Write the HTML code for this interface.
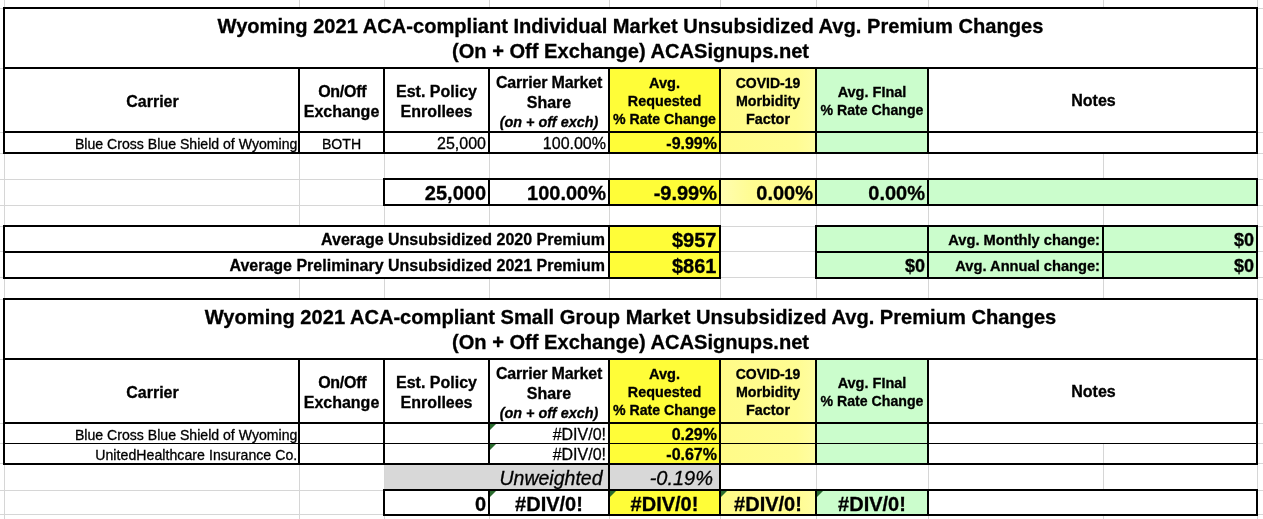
<!DOCTYPE html>
<html><head><meta charset="utf-8"><title>Wyoming 2021 ACA Premium Changes</title>
<style>
html,body{margin:0;padding:0;background:#fff;}
body{width:1263px;height:519px;position:relative;overflow:hidden;font-family:"Liberation Sans",Arial,sans-serif;color:#000;}
#s div{position:absolute;box-sizing:border-box;}
#s .t{white-space:nowrap;overflow:visible;-webkit-text-stroke:0.3px #000;}
</style></head><body><div id="s">
<div style="left:4px;top:0px;width:1px;height:519px;background:#d6d6d6;"></div>
<div style="left:299px;top:0px;width:1px;height:519px;background:#d6d6d6;"></div>
<div style="left:384px;top:0px;width:1px;height:519px;background:#d6d6d6;"></div>
<div style="left:489px;top:0px;width:1px;height:519px;background:#d6d6d6;"></div>
<div style="left:609px;top:0px;width:1px;height:519px;background:#d6d6d6;"></div>
<div style="left:720px;top:0px;width:1px;height:519px;background:#d6d6d6;"></div>
<div style="left:816px;top:0px;width:1px;height:519px;background:#d6d6d6;"></div>
<div style="left:928px;top:0px;width:1px;height:519px;background:#d6d6d6;"></div>
<div style="left:1103px;top:0px;width:1px;height:519px;background:#d6d6d6;"></div>
<div style="left:1257px;top:0px;width:1px;height:519px;background:#d6d6d6;"></div>
<div style="left:0px;top:8px;width:1263px;height:1px;background:#d6d6d6;"></div>
<div style="left:0px;top:68px;width:1263px;height:1px;background:#d6d6d6;"></div>
<div style="left:0px;top:132px;width:1263px;height:1px;background:#d6d6d6;"></div>
<div style="left:0px;top:153px;width:1263px;height:1px;background:#d6d6d6;"></div>
<div style="left:0px;top:179px;width:1263px;height:1px;background:#d6d6d6;"></div>
<div style="left:0px;top:205px;width:1263px;height:1px;background:#d6d6d6;"></div>
<div style="left:0px;top:226px;width:1263px;height:1px;background:#d6d6d6;"></div>
<div style="left:0px;top:251px;width:1263px;height:1px;background:#d6d6d6;"></div>
<div style="left:0px;top:277px;width:1263px;height:1px;background:#d6d6d6;"></div>
<div style="left:0px;top:299px;width:1263px;height:1px;background:#d6d6d6;"></div>
<div style="left:0px;top:359px;width:1263px;height:1px;background:#d6d6d6;"></div>
<div style="left:0px;top:423px;width:1263px;height:1px;background:#d6d6d6;"></div>
<div style="left:0px;top:443px;width:1263px;height:1px;background:#d6d6d6;"></div>
<div style="left:0px;top:463px;width:1263px;height:1px;background:#d6d6d6;"></div>
<div style="left:0px;top:490px;width:1263px;height:1px;background:#d6d6d6;"></div>
<div style="left:0px;top:514px;width:1263px;height:1px;background:#d6d6d6;"></div>
<div style="left:5px;top:9px;width:1251px;height:58px;background:#fff;"></div>
<div style="left:929px;top:133px;width:327px;height:19px;background:#fff;"></div>
<div style="left:5px;top:227px;width:603px;height:24px;background:#fff;"></div>
<div style="left:5px;top:253px;width:603px;height:24px;background:#fff;"></div>
<div style="left:5px;top:300px;width:1251px;height:58px;background:#fff;"></div>
<div style="left:929px;top:69px;width:327px;height:62px;background:#fff;"></div>
<div style="left:929px;top:360px;width:327px;height:62px;background:#fff;"></div>
<div style="left:929px;top:424px;width:327px;height:19px;background:#fff;"></div>
<div style="left:929px;top:491px;width:327px;height:23px;background:#fff;"></div>
<div style="left:610px;top:69px;width:109px;height:83px;background:#fffd38;"></div>
<div style="left:721px;top:69px;width:94px;height:83px;background:linear-gradient(90deg,#fffb88,#fffc92 80%,#fffda2);"></div>
<div style="left:817px;top:69px;width:109.60000000000002px;height:83px;background:#cbfdcc;"></div>
<div style="left:610px;top:180px;width:109px;height:24px;background:#fffd38;"></div>
<div style="left:721px;top:180px;width:94px;height:24px;background:linear-gradient(90deg,#fffdb0,#fffc90 35%,#fffc8c);"></div>
<div style="left:817px;top:180px;width:439px;height:24px;background:#cbfdcc;"></div>
<div style="left:610px;top:227px;width:109px;height:50px;background:#fffd38;"></div>
<div style="left:817px;top:227px;width:439px;height:50px;background:#cbfdcc;"></div>
<div style="left:610px;top:360px;width:109px;height:103px;background:#fffd38;"></div>
<div style="left:721px;top:360px;width:94px;height:103px;background:linear-gradient(90deg,#fffb88,#fffc92 80%,#fffda2);"></div>
<div style="left:817px;top:360px;width:109.60000000000002px;height:103px;background:#cbfdcc;"></div>
<div style="left:385px;top:465px;width:334px;height:24px;background:#d8d8d8;"></div>
<div style="left:610px;top:491px;width:109px;height:23px;background:#fffd38;"></div>
<div style="left:721px;top:491px;width:94px;height:23px;background:linear-gradient(90deg,#fffb88,#fffc92 80%,#fffda2);"></div>
<div style="left:817px;top:491px;width:109.60000000000002px;height:23px;background:#cbfdcc;"></div>
<div style="left:3px;top:7px;width:1255px;height:2px;background:#000;"></div>
<div style="left:3px;top:67px;width:1255px;height:2px;background:#000;"></div>
<div style="left:3px;top:131px;width:1255px;height:2px;background:#000;"></div>
<div style="left:3px;top:152px;width:1255px;height:2px;background:#000;"></div>
<div style="left:3px;top:7px;width:2px;height:147px;background:#000;"></div>
<div style="left:1256px;top:7px;width:2px;height:147px;background:#000;"></div>
<div style="left:298px;top:67px;width:2px;height:87px;background:#000;"></div>
<div style="left:383px;top:67px;width:2px;height:87px;background:#000;"></div>
<div style="left:488px;top:67px;width:2px;height:87px;background:#000;"></div>
<div style="left:608px;top:67px;width:2px;height:87px;background:#000;"></div>
<div style="left:719px;top:67px;width:2px;height:87px;background:#000;"></div>
<div style="left:815px;top:67px;width:2px;height:87px;background:#000;"></div>
<div style="left:927px;top:67px;width:2px;height:87px;background:#000;"></div>
<div style="left:383px;top:178px;width:875px;height:2px;background:#000;"></div>
<div style="left:383px;top:203.5px;width:875px;height:2.0px;background:#000;"></div>
<div style="left:383px;top:178px;width:2px;height:27.5px;background:#000;"></div>
<div style="left:488px;top:178px;width:2px;height:27.5px;background:#000;"></div>
<div style="left:608px;top:178px;width:2px;height:27.5px;background:#000;"></div>
<div style="left:719px;top:178px;width:2px;height:27.5px;background:#000;"></div>
<div style="left:815px;top:178px;width:2px;height:27.5px;background:#000;"></div>
<div style="left:927px;top:178px;width:2px;height:27.5px;background:#000;"></div>
<div style="left:1256px;top:178px;width:2px;height:27.5px;background:#000;"></div>
<div style="left:3px;top:225px;width:718px;height:2px;background:#000;"></div>
<div style="left:3px;top:250.5px;width:718px;height:2.0px;background:#000;"></div>
<div style="left:3px;top:276.5px;width:718px;height:2.0px;background:#000;"></div>
<div style="left:3px;top:225px;width:2px;height:53.5px;background:#000;"></div>
<div style="left:608px;top:225px;width:2px;height:53.5px;background:#000;"></div>
<div style="left:719px;top:225px;width:2px;height:53.5px;background:#000;"></div>
<div style="left:815px;top:225px;width:443px;height:2px;background:#000;"></div>
<div style="left:815px;top:250.5px;width:443px;height:2.0px;background:#000;"></div>
<div style="left:815px;top:276.5px;width:443px;height:2.0px;background:#000;"></div>
<div style="left:815px;top:225px;width:2px;height:53.5px;background:#000;"></div>
<div style="left:927px;top:225px;width:2px;height:53.5px;background:#000;"></div>
<div style="left:1102px;top:225px;width:2px;height:53.5px;background:#000;"></div>
<div style="left:1256px;top:225px;width:2px;height:53.5px;background:#000;"></div>
<div style="left:3px;top:298px;width:1255px;height:2px;background:#000;"></div>
<div style="left:3px;top:358px;width:1255px;height:2px;background:#000;"></div>
<div style="left:3px;top:422px;width:1255px;height:2px;background:#000;"></div>
<div style="left:3px;top:443px;width:1255px;height:1px;background:#000;"></div>
<div style="left:3px;top:462.5px;width:1255px;height:2.0px;background:#000;"></div>
<div style="left:3px;top:298px;width:2px;height:166.5px;background:#000;"></div>
<div style="left:1256px;top:298px;width:2px;height:166.5px;background:#000;"></div>
<div style="left:298px;top:358px;width:2px;height:106.5px;background:#000;"></div>
<div style="left:383px;top:358px;width:2px;height:106.5px;background:#000;"></div>
<div style="left:488px;top:358px;width:2px;height:106.5px;background:#000;"></div>
<div style="left:608px;top:358px;width:2px;height:106.5px;background:#000;"></div>
<div style="left:719px;top:358px;width:2px;height:106.5px;background:#000;"></div>
<div style="left:815px;top:358px;width:2px;height:106.5px;background:#000;"></div>
<div style="left:927px;top:358px;width:2px;height:106.5px;background:#000;"></div>
<div style="left:608px;top:463px;width:2px;height:28px;background:#000;"></div>
<div style="left:719px;top:463px;width:2px;height:28px;background:#000;"></div>
<div style="left:383px;top:489px;width:875px;height:2px;background:#000;"></div>
<div style="left:383px;top:513.5px;width:875px;height:2.0px;background:#000;"></div>
<div style="left:383px;top:489px;width:2px;height:26.5px;background:#000;"></div>
<div style="left:488px;top:489px;width:2px;height:26.5px;background:#000;"></div>
<div style="left:608px;top:489px;width:2px;height:26.5px;background:#000;"></div>
<div style="left:719px;top:489px;width:2px;height:26.5px;background:#000;"></div>
<div style="left:815px;top:489px;width:2px;height:26.5px;background:#000;"></div>
<div style="left:927px;top:489px;width:2px;height:26.5px;background:#000;"></div>
<div style="left:1256px;top:489px;width:2px;height:26.5px;background:#000;"></div>
<div class="t" style="left:5px;top:9px;width:1251px;height:58px;font-size:20.1px;text-align:center;font-weight:bold;font-style:normal;line-height:25px;padding-top:5px;">Wyoming 2021 ACA-compliant Individual Market Unsubsidized Avg. Premium Changes<br>(On + Off Exchange) ACASignups.net</div>
<div class="t" style="left:5px;top:300px;width:1251px;height:58px;font-size:20.1px;text-align:center;font-weight:bold;font-style:normal;line-height:25px;padding-top:5px;">Wyoming 2021 ACA-compliant Small Group Market Unsubsidized Avg. Premium Changes<br>(On + Off Exchange) ACASignups.net</div>
<div class="t" style="left:6px;top:71px;width:293px;height:62px;font-size:16px;text-align:center;font-weight:bold;font-style:normal;line-height:62px;">Carrier</div>
<div class="t" style="left:300px;top:69px;width:83px;height:62px;font-size:16px;text-align:center;font-weight:bold;font-style:normal;line-height:20px;padding-top:12.5px;"><span style="letter-spacing:-0.27px;margin-left:1.5px">On/Off</span><br>Exchange</div>
<div class="t" style="left:385px;top:69px;width:103px;height:62px;font-size:16px;text-align:center;font-weight:bold;font-style:normal;line-height:20px;padding-top:12.5px;">Est. Policy<br>Enrollees</div>
<div class="t" style="left:490px;top:69px;width:118px;height:62px;font-size:16px;text-align:center;font-weight:bold;font-style:normal;line-height:19.5px;padding-top:4px;"><span style="letter-spacing:-0.17px">Carrier Market</span><br>Share<br><i style="font-size:14.4px">(on + off exch)</i></div>
<div class="t" style="left:610px;top:69px;width:109px;height:62px;font-size:14px;text-align:center;font-weight:bold;font-style:normal;line-height:18px;padding-top:5px;"><span style="font-size:14.6px">Avg.</span><br><span style="font-size:14.35px">Requested</span><br><span style="font-size:14.15px">% Rate Change</span></div>
<div class="t" style="left:721px;top:69px;width:94px;height:62px;font-size:14px;text-align:center;font-weight:bold;font-style:normal;line-height:18px;padding-top:5px;">COVID-19<br><span style="font-size:14.25px">Morbidity</span><br><span style="font-size:14.4px">Factor</span></div>
<div class="t" style="left:817px;top:69px;width:110px;height:62px;font-size:14px;text-align:center;font-weight:bold;font-style:normal;line-height:18px;padding-top:14px;"><span style="font-size:14.5px">Avg. FInal</span><br><span style="font-size:14.15px">% Rate Change</span></div>
<div class="t" style="left:930px;top:70px;width:327px;height:62px;font-size:16px;text-align:center;font-weight:bold;font-style:normal;line-height:62px;">Notes</div>
<div class="t" style="left:6px;top:362px;width:293px;height:62px;font-size:16px;text-align:center;font-weight:bold;font-style:normal;line-height:62px;">Carrier</div>
<div class="t" style="left:300px;top:360px;width:83px;height:62px;font-size:16px;text-align:center;font-weight:bold;font-style:normal;line-height:20px;padding-top:12.5px;"><span style="letter-spacing:-0.27px;margin-left:1.5px">On/Off</span><br>Exchange</div>
<div class="t" style="left:385px;top:360px;width:103px;height:62px;font-size:16px;text-align:center;font-weight:bold;font-style:normal;line-height:20px;padding-top:12.5px;">Est. Policy<br>Enrollees</div>
<div class="t" style="left:490px;top:360px;width:118px;height:62px;font-size:16px;text-align:center;font-weight:bold;font-style:normal;line-height:19.5px;padding-top:4px;"><span style="letter-spacing:-0.17px">Carrier Market</span><br>Share<br><i style="font-size:14.4px">(on + off exch)</i></div>
<div class="t" style="left:610px;top:360px;width:109px;height:62px;font-size:14px;text-align:center;font-weight:bold;font-style:normal;line-height:18px;padding-top:5px;"><span style="font-size:14.6px">Avg.</span><br><span style="font-size:14.35px">Requested</span><br><span style="font-size:14.15px">% Rate Change</span></div>
<div class="t" style="left:721px;top:360px;width:94px;height:62px;font-size:14px;text-align:center;font-weight:bold;font-style:normal;line-height:18px;padding-top:5px;">COVID-19<br><span style="font-size:14.25px">Morbidity</span><br><span style="font-size:14.4px">Factor</span></div>
<div class="t" style="left:817px;top:360px;width:110px;height:62px;font-size:14px;text-align:center;font-weight:bold;font-style:normal;line-height:18px;padding-top:14px;"><span style="font-size:14.5px">Avg. FInal</span><br><span style="font-size:14.15px">% Rate Change</span></div>
<div class="t" style="left:930px;top:361px;width:327px;height:62px;font-size:16px;text-align:center;font-weight:bold;font-style:normal;line-height:62px;">Notes</div>
<div class="t" style="left:5px;top:134px;width:293px;height:19px;font-size:14.1px;text-align:right;font-weight:normal;font-style:normal;line-height:21px;padding-right:0.7px;">Blue Cross Blue Shield of Wyoming</div>
<div class="t" style="left:300px;top:134px;width:83px;height:19px;font-size:14.1px;text-align:center;font-weight:normal;font-style:normal;line-height:21px;">BOTH</div>
<div class="t" style="left:385px;top:133px;width:103px;height:19px;font-size:16px;text-align:right;font-weight:normal;font-style:normal;line-height:21px;padding-right:2px;">25,000</div>
<div class="t" style="left:490px;top:133px;width:118px;height:19px;font-size:16px;text-align:right;font-weight:normal;font-style:normal;line-height:21px;padding-right:2px;">100.00%</div>
<div class="t" style="left:610px;top:133px;width:109px;height:19px;font-size:16px;text-align:right;font-weight:bold;font-style:normal;line-height:21px;padding-right:2px;">-9.99%</div>
<div class="t" style="left:385px;top:180px;width:103px;height:24px;font-size:20px;text-align:right;font-weight:bold;font-style:normal;line-height:27px;padding-right:2px;">25,000</div>
<div class="t" style="left:490px;top:180px;width:118px;height:24px;font-size:20px;text-align:right;font-weight:bold;font-style:normal;line-height:27px;padding-right:2px;">100.00%</div>
<div class="t" style="left:610px;top:180px;width:109px;height:24px;font-size:20px;text-align:right;font-weight:bold;font-style:normal;line-height:27px;padding-right:2px;">-9.99%</div>
<div class="t" style="left:721px;top:180px;width:94px;height:24px;font-size:20px;text-align:right;font-weight:bold;font-style:normal;line-height:27px;padding-right:2px;">0.00%</div>
<div class="t" style="left:817px;top:180px;width:110px;height:24px;font-size:20px;text-align:right;font-weight:bold;font-style:normal;line-height:27px;padding-right:2px;">0.00%</div>
<div class="t" style="left:5px;top:227px;width:603px;height:24px;font-size:16px;text-align:right;font-weight:bold;font-style:normal;line-height:26px;padding-right:3px;">Average Unsubsidized 2020 Premium</div>
<div class="t" style="left:5px;top:253px;width:603px;height:24px;font-size:16px;text-align:right;font-weight:bold;font-style:normal;line-height:26px;padding-right:3px;">Average Preliminary Unsubsidized 2021 Premium</div>
<div class="t" style="left:610px;top:227px;width:109px;height:24px;font-size:20px;text-align:right;font-weight:bold;font-style:normal;line-height:27px;padding-right:2.5px;">$957</div>
<div class="t" style="left:610px;top:253px;width:109px;height:24px;font-size:20px;text-align:right;font-weight:bold;font-style:normal;line-height:27px;padding-right:2.5px;">$861</div>
<div class="t" style="left:817px;top:253px;width:110px;height:24px;font-size:18px;text-align:right;font-weight:bold;font-style:normal;line-height:26px;padding-right:2px;">$0</div>
<div class="t" style="left:929px;top:227px;width:173px;height:24px;font-size:14.67px;text-align:right;font-weight:bold;font-style:normal;line-height:27px;padding-right:2px;">Avg. Monthly change:</div>
<div class="t" style="left:929px;top:253px;width:173px;height:24px;font-size:14.67px;text-align:right;font-weight:bold;font-style:normal;line-height:27px;padding-right:2px;">Avg. Annual change:</div>
<div class="t" style="left:1104px;top:227px;width:152px;height:24px;font-size:18px;text-align:right;font-weight:bold;font-style:normal;line-height:26px;padding-right:2px;">$0</div>
<div class="t" style="left:1104px;top:253px;width:152px;height:24px;font-size:18px;text-align:right;font-weight:bold;font-style:normal;line-height:26px;padding-right:2px;">$0</div>
<div class="t" style="left:5px;top:424px;width:293px;height:19px;font-size:14.1px;text-align:right;font-weight:normal;font-style:normal;line-height:22px;padding-right:0.7px;">Blue Cross Blue Shield of Wyoming</div>
<div class="t" style="left:5px;top:444px;width:293px;height:19px;font-size:14.1px;text-align:right;font-weight:normal;font-style:normal;line-height:22px;padding-right:0.7px;letter-spacing:0.05px;">UnitedHealthcare Insurance Co.</div>
<div class="t" style="left:490px;top:424px;width:118px;height:19px;font-size:16px;text-align:right;font-weight:normal;font-style:normal;line-height:22px;padding-right:2px;">#DIV/0!</div>
<div class="t" style="left:490px;top:444px;width:118px;height:19px;font-size:16px;text-align:right;font-weight:normal;font-style:normal;line-height:22px;padding-right:2px;">#DIV/0!</div>
<div class="t" style="left:610px;top:424px;width:109px;height:19px;font-size:16px;text-align:right;font-weight:bold;font-style:normal;line-height:22px;padding-right:2px;">0.29%</div>
<div class="t" style="left:610px;top:444px;width:109px;height:19px;font-size:16px;text-align:right;font-weight:bold;font-style:normal;line-height:22px;padding-right:2px;">-0.67%</div>
<div class="t" style="left:385px;top:465px;width:223px;height:24px;font-size:19.5px;text-align:right;font-weight:normal;font-style:italic;line-height:27px;padding-right:5.5px;">Unweighted</div>
<div class="t" style="left:610px;top:465px;width:109px;height:24px;font-size:20px;text-align:right;font-weight:normal;font-style:italic;line-height:27px;padding-right:6px;">-0.19%</div>
<div class="t" style="left:385px;top:491px;width:103px;height:23px;font-size:20px;text-align:right;font-weight:bold;font-style:normal;line-height:26px;padding-right:2px;">0</div>
<div class="t" style="left:490px;top:491px;width:118px;height:23px;font-size:20px;text-align:center;font-weight:bold;font-style:normal;line-height:26px;">#DIV/0!</div>
<div class="t" style="left:610px;top:491px;width:109px;height:23px;font-size:20px;text-align:center;font-weight:bold;font-style:normal;line-height:26px;">#DIV/0!</div>
<div class="t" style="left:721px;top:491px;width:94px;height:23px;font-size:20px;text-align:center;font-weight:bold;font-style:normal;line-height:26px;">#DIV/0!</div>
<div class="t" style="left:817px;top:491px;width:110px;height:23px;font-size:20px;text-align:center;font-weight:bold;font-style:normal;line-height:26px;">#DIV/0!</div>
<svg style="position:absolute;left:490px;top:424px" width="6" height="6"><polygon points="0,0 6,0 0,6" fill="#2a6b2e"/></svg>
<svg style="position:absolute;left:490px;top:444px" width="6" height="6"><polygon points="0,0 6,0 0,6" fill="#2a6b2e"/></svg>
<svg style="position:absolute;left:490px;top:491px" width="6" height="6"><polygon points="0,0 6,0 0,6" fill="#2a6b2e"/></svg>
<svg style="position:absolute;left:610px;top:491px" width="6" height="6"><polygon points="0,0 6,0 0,6" fill="#2a6b2e"/></svg>
<svg style="position:absolute;left:721px;top:491px" width="6" height="6"><polygon points="0,0 6,0 0,6" fill="#2a6b2e"/></svg>
<svg style="position:absolute;left:817px;top:491px" width="6" height="6"><polygon points="0,0 6,0 0,6" fill="#2a6b2e"/></svg>
</div></body></html>
